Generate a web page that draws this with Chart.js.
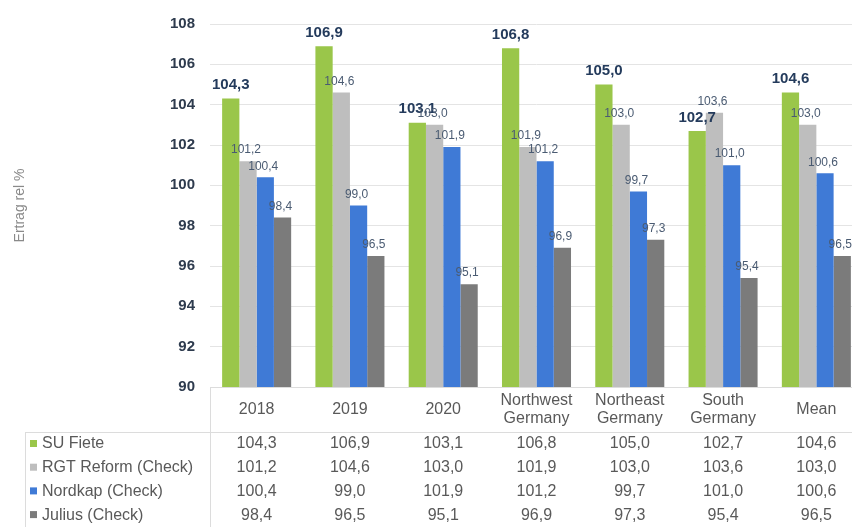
<!DOCTYPE html>
<html>
<head>
<meta charset="utf-8">
<script src="https://cdn.jsdelivr.net/npm/chart.js@4"></script>
<style>
html, body { margin: 0; padding: 0; background: #fff; overflow: hidden; }
/* the plot runs a little past the right edge, as in the original */
#wrap { width: 863px; height: 527px; }
</style>
</head>
<body>
<div id="wrap"><canvas id="ertragChart"></canvas></div>
<script>
const categories = ['2018', '2019', '2020', ['Northwest', 'Germany'], ['Northeast', 'Germany'], ['South', 'Germany'], 'Mean'];
const seriesNames = ['SU Fiete', 'RGT Reform (Check)', 'Nordkap (Check)', 'Julius (Check)'];
const suFiete = [104.3, 106.9, 103.1, 106.8, 105.0, 102.7, 104.6];
const rgtReform = [101.2, 104.6, 103.0, 101.9, 103.0, 103.6, 103.0];
const nordkap = [100.4, 99.0, 101.9, 101.2, 99.7, 101.0, 100.6];
const julius = [98.4, 96.5, 95.1, 96.9, 97.3, 95.4, 96.5];
const yTicks = [90, 92, 94, 96, 98, 100, 102, 104, 106, 108];

const colors = ['#9AC64A', '#BEBEBE', '#3F7AD6', '#7B7B7B'];
const allSeries = [suFiete, rgtReform, nordkap, julius];
const fmt = v => v.toFixed(1).replace('.', ',');
const TABLE_TOP = 432;
const ROW_H = 23.7;

// value labels above the bars
const barLabels = {
    id: 'barLabels',
    afterDatasetsDraw(chart) {
        const ctx = chart.ctx;
        ctx.save();
        ctx.textAlign = 'center';
        ctx.textBaseline = 'bottom';
        chart.data.datasets.forEach((ds, i) => {
            const meta = chart.getDatasetMeta(i);
            meta.data.forEach((el, j) => {
                if (i === 0) {
                    ctx.font = 'bold 15px Arial';
                    ctx.fillStyle = '#243B5C';
                    ctx.fillText(fmt(ds.data[j]), el.x, el.y - 6);
                } else {
                    ctx.font = '12px Arial';
                    ctx.fillStyle = '#4A5B72';
                    ctx.fillText(fmt(ds.data[j]), el.x - 2, el.y - 5);
                }
            });
        });
        ctx.restore();
    }
};

// data table under the x axis
const dataTable = {
    id: 'dataTable',
    afterDraw(chart) {
        const ctx = chart.ctx;
        const x = chart.scales.x;
        const left = chart.chartArea.left;
        ctx.save();
        ctx.strokeStyle = '#DCDCDC';
        ctx.lineWidth = 1;
        ctx.beginPath();
        ctx.moveTo(25, TABLE_TOP + 0.5);
        ctx.lineTo(chart.width, TABLE_TOP + 0.5);
        ctx.moveTo(25.5, TABLE_TOP);
        ctx.lineTo(25.5, chart.height);
        ctx.moveTo(Math.round(left) + 0.5, chart.chartArea.bottom);
        ctx.lineTo(Math.round(left) + 0.5, chart.height);
        ctx.stroke();

        ctx.font = '16px Arial';
        ctx.textBaseline = 'middle';
        seriesNames.forEach((name, i) => {
            const y = TABLE_TOP + 12 + i * ROW_H;
            ctx.fillStyle = colors[i];
            ctx.fillRect(30, y - 4, 7, 7);
            ctx.fillStyle = '#595959';
            ctx.textAlign = 'left';
            ctx.fillText(name, 42, y);
            ctx.textAlign = 'center';
            allSeries[i].forEach((v, j) => {
                ctx.fillText(fmt(v), x.getPixelForValue(j), y);
            });
        });
        ctx.restore();
    }
};

const ctx = document.getElementById('ertragChart').getContext('2d');

new Chart(ctx, {
    type: 'bar',
    data: {
        labels: categories,
        datasets: seriesNames.map((name, i) => ({
            label: name,
            data: allSeries[i],
            backgroundColor: colors[i],
            borderWidth: 0,
            categoryPercentage: 0.74,
            barPercentage: 1
        }))
    },
    options: {
        responsive: true,
        maintainAspectRatio: false,
        animation: false,
        layout: {
            padding: { top: 14, right: 0, bottom: 95, left: 0 }
        },
        plugins: {
            legend: { display: false },
            tooltip: { enabled: false }
        },
        scales: {
            x: {
                grid: { display: false, drawTicks: false },
                border: { display: true, color: '#DCDCDC' },
                ticks: {
                    color: '#595959',
                    font: { family: 'Arial', size: 16, lineHeight: 1.12 },
                    padding: 14,
                    maxRotation: 0,
                    autoSkip: false,
                    crossAlign: 'center'
                },
                afterFit: s => { s.height = 45; }
            },
            y: {
                min: 90,
                max: 108,
                afterBuildTicks: s => { s.ticks = yTicks.map(v => ({ value: v })); },
                grid: { color: '#E4E4E4', drawTicks: false },
                border: { display: false },
                ticks: {
                    color: '#2E3B4E',
                    font: { family: 'Arial', size: 15, weight: 'bold' },
                    padding: 15
                },
                title: {
                    display: true,
                    text: 'Ertrag rel %',
                    color: '#8A8A8A',
                    font: { family: 'Arial', size: 14 },
                    padding: { top: 12, bottom: 0 }
                },
                afterFit: s => { s.width = 210; }
            }
        }
    },
    plugins: [barLabels, dataTable]
});
</script>
</body>
</html>
